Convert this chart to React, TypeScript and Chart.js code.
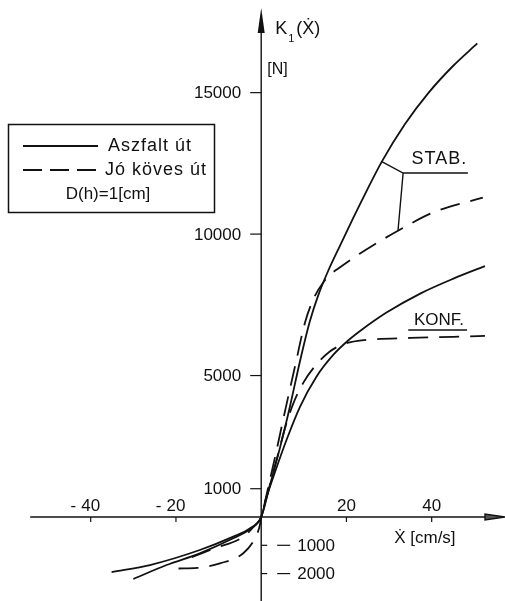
import React, { useEffect, useRef } from "react";
import { Chart, registerables } from "chart.js";

Chart.register(...registerables);

// ---- data (x: Ẋ [cm/s], y: K1 [N]) ----
const stabAszfaltX = [-30, -22.2, -14.4, -6.55, -2.6, 0, 2, 4.4, 6.8, 9.1, 11.4, 13.4, 15.8, 18.5, 21.6, 24.8, 28.3, 33.7, 39.2, 45, 50.7];
const stabAszfaltY = [-2190, -1697, -1283, -753, -430, 0, 1100, 2444, 3944, 5508, 6911, 7843, 8731, 9595, 10571, 11547, 12562, 13885, 14985, 15942, 16740];

const konfAszfaltX = [-35.1, -26.1, -14.4, -6.55, -2.6, 0, 1.3, 3.24, 6.0, 9.1, 13.0, 16.9, 20.4, 23.2, 29.4, 37.3, 45.1, 52.5];
const konfAszfaltY = [-1945, -1697, -1166, -696, -400, 0, 718, 1591, 2750, 3897, 4970, 5730, 6238, 6574, 7225, 7897, 8427, 8871];

const stabKovesX = [-16.3, -11.2, -4.2, -1.5, 0, 1.5, 3.3, 5.6, 7.9, 10.3, 12.5, 14.6, 16.5, 18.5, 23.2, 25.9, 32.2, 40.4, 52];
const stabKovesY = [-1420, -1120, -700, -300, 0, 950, 2150, 3750, 5300, 6884, 7784, 8301, 8605, 8825, 9318, 9574, 10128, 10768, 11290];

const konfKovesX = [-19.4, -15, -9.7, -4.2, -1.45, -0.3, 0, 2, 4, 5.6, 7.5, 9.9, 13, 16.1, 18.5, 21, 25, 35, 45, 52.5];
const konfKovesY = [-1820, -1800, -1640, -1280, -750, -280, 0, 1100, 2250, 3150, 4000, 4750, 5400, 5850, 6060, 6180, 6265, 6330, 6370, 6400];

// ---- ticks / labels ----
const xTicks = [-40, -20, 20, 40];
const yTicksPos = [1000, 5000, 10000, 15000];
const yTicksNeg = [-1000, -2000];
const legendLabels = ["Aszfalt út", "Jó köves út"];
const legendNote = "D(h)=1[cm]";
const xAxisTitle = "Ẋ [cm/s]";
const yAxisUnit = "[N]";
const stabText = "STAB.";
const konfText = "KONF.";

// axis ranges
const X_MIN = -61.28;
const X_MAX = 57.2;
const Y_MIN = -2969;
const Y_MAX = 18275;
const X_AXIS_FROM = -54.2;

// annotation anchors (data coords)
const stabOnSolid = { x: 28.3, y: 12562 };
const stabCorner = { x: 33.3, y: 12160 };
const stabLineEnd = { x: 48.5, y: 12160 };
const stabOnDashed = { x: 32.1, y: 10128 };
const stabTextPos = { x: 41.8, y: 12650 };
const konfTextPos = { x: 41.7, y: 6960 };
const konfLine = { x1: 34.5, x2: 48.3, y: 6610 };

const FONT = '"Liberation Sans", "DejaVu Sans", sans-serif';
const INK = "#111";

function pts(xs: number[], ys: number[]) {
  return xs.map((x, i) => ({ x, y: ys[i] }));
}

const drawPlugin = {
  id: "technicalAxes",
  beforeDatasetsDraw(chart: any) {
    const { ctx, chartArea } = chart;
    const xs = chart.scales.x;
    const ys = chart.scales.y;
    const x0 = xs.getPixelForValue(0);
    const y0 = ys.getPixelForValue(0);
    ctx.save();
    ctx.strokeStyle = INK;
    ctx.fillStyle = INK;
    ctx.lineWidth = 1.4;
    // x axis
    const xRight = chartArea.right;
    ctx.beginPath();
    ctx.moveTo(xs.getPixelForValue(X_AXIS_FROM), y0);
    ctx.lineTo(xRight - 18, y0);
    ctx.stroke();
    ctx.beginPath();
    ctx.moveTo(xRight, y0);
    ctx.lineTo(xRight - 20, y0 - 3);
    ctx.lineTo(xRight - 20, y0 + 3);
    ctx.closePath();
    ctx.fillStyle = "#555";
    ctx.fill();
    ctx.stroke();
    ctx.fillStyle = INK;
    // y axis
    ctx.beginPath();
    ctx.moveTo(x0, chartArea.bottom);
    ctx.lineTo(x0, chartArea.top + 24);
    ctx.stroke();
    ctx.beginPath();
    ctx.moveTo(x0, chartArea.top + 8);
    ctx.lineTo(x0 - 3.5, chartArea.top + 33);
    ctx.lineTo(x0 + 3.5, chartArea.top + 33);
    ctx.closePath();
    ctx.fill();

    // ticks
    ctx.lineWidth = 1.2;
    xTicks.forEach((v) => {
      const px = xs.getPixelForValue(v);
      ctx.beginPath();
      ctx.moveTo(px, y0);
      ctx.lineTo(px, y0 + 5);
      ctx.stroke();
    });
    yTicksPos.forEach((v) => {
      const py = ys.getPixelForValue(v);
      ctx.beginPath();
      ctx.moveTo(x0 - 11, py);
      ctx.lineTo(x0, py);
      ctx.stroke();
    });
    yTicksNeg.forEach((v) => {
      const py = ys.getPixelForValue(v);
      ctx.beginPath();
      ctx.moveTo(x0, py);
      ctx.lineTo(x0 + 6, py);
      ctx.stroke();
    });

    // tick labels
    ctx.font = `17px ${FONT}`;
    ctx.textBaseline = "middle";
    xTicks.forEach((v) => {
      const px = xs.getPixelForValue(v);
      const num = String(Math.abs(v));
      const w = ctx.measureText(num).width;
      ctx.textAlign = "left";
      ctx.fillText(num, px - w / 2, y0 - 11);
      if (v < 0) {
        ctx.textAlign = "right";
        ctx.fillText("-", px - w / 2 - 5, y0 - 11);
      }
    });
    ctx.textAlign = "right";
    yTicksPos.forEach((v) => {
      const py = ys.getPixelForValue(v);
      ctx.fillText(String(v), x0 - 20, py + 1);
    });
    ctx.textAlign = "left";
    yTicksNeg.forEach((v) => {
      const py = ys.getPixelForValue(v);
      ctx.beginPath();
      ctx.moveTo(x0 + 16, py);
      ctx.lineTo(x0 + 29, py);
      ctx.stroke();
      ctx.fillText(String(Math.abs(v)), x0 + 36, py + 1);
    });

    // axis titles
    ctx.textBaseline = "alphabetic";
    ctx.font = `18px ${FONT}`;
    ctx.fillText("K", x0 + 14, 34);
    ctx.font = `11px ${FONT}`;
    ctx.fillText("1", x0 + 27, 42);
    ctx.font = `18px ${FONT}`;
    ctx.fillText("(Ẋ)", x0 + 35, 34);
    ctx.font = `16px ${FONT}`;
    ctx.fillText(yAxisUnit, x0 + 6, 74);
    ctx.font = `17px ${FONT}`;
    ctx.fillText(xAxisTitle, x0 + 133, y0 + 26);
    ctx.restore();
  },
  afterDatasetsDraw(chart: any) {
    const { ctx } = chart;
    const xs = chart.scales.x;
    const ys = chart.scales.y;
    const P = (p: { x: number; y: number }) => [xs.getPixelForValue(p.x), ys.getPixelForValue(p.y)];
    ctx.save();
    ctx.strokeStyle = INK;
    ctx.fillStyle = INK;
    ctx.lineWidth = 1.4;
    // STAB annotation
    const a = P(stabOnSolid), b = P(stabCorner), c = P(stabLineEnd), d = P(stabOnDashed);
    ctx.beginPath();
    ctx.moveTo(a[0], a[1]);
    ctx.lineTo(b[0], b[1]);
    ctx.lineTo(c[0], c[1]);
    ctx.moveTo(b[0], b[1]);
    ctx.lineTo(d[0], d[1]);
    ctx.stroke();
    ctx.font = `18px ${FONT}`;
    ctx.textAlign = "center";
    ctx.textBaseline = "middle";
    (ctx as any).letterSpacing = "1px";
    const st = P(stabTextPos);
    ctx.fillText(stabText, st[0], st[1]);
    (ctx as any).letterSpacing = "0px";
    // KONF annotation
    ctx.font = `17px ${FONT}`;
    const kt = P(konfTextPos);
    ctx.fillText(konfText, kt[0], kt[1]);
    ctx.beginPath();
    ctx.moveTo(xs.getPixelForValue(konfLine.x1), ys.getPixelForValue(konfLine.y));
    ctx.lineTo(xs.getPixelForValue(konfLine.x2), ys.getPixelForValue(konfLine.y));
    ctx.stroke();

    // legend box
    ctx.lineWidth = 1.5;
    ctx.strokeRect(8.5, 124.5, 206, 88);
    ctx.lineWidth = 1.8;
    ctx.beginPath();
    ctx.moveTo(23, 146);
    ctx.lineTo(98, 146);
    ctx.stroke();
    ctx.setLineDash([19, 8]);
    ctx.beginPath();
    ctx.moveTo(23, 170);
    ctx.lineTo(98, 170);
    ctx.stroke();
    ctx.setLineDash([]);
    ctx.font = `18px ${FONT}`;
    ctx.textAlign = "left";
    (ctx as any).letterSpacing = "1px";
    ctx.fillText(legendLabels[0], 108, 146);
    ctx.fillText(legendLabels[1], 105, 170);
    (ctx as any).letterSpacing = "0px";
    ctx.textAlign = "center";
    ctx.font = `17px ${FONT}`;
    ctx.fillText(legendNote, 108, 194);
    ctx.restore();
  },
};

export default function App() {
  const ref = useRef<HTMLCanvasElement | null>(null);
  useEffect(() => {
    if (!ref.current) return;
    const solid = { borderColor: INK, borderWidth: 1.8, pointRadius: 0, showLine: true, cubicInterpolationMode: "monotone" as const, fill: false };
    const dashed = { ...solid, borderDash: [20, 11] };
    const chart = new Chart(ref.current, {
      type: "scatter",
      data: {
        datasets: [
          { label: "STAB " + legendLabels[0], data: pts(stabAszfaltX, stabAszfaltY), ...solid },
          { label: "KONF " + legendLabels[0], data: pts(konfAszfaltX, konfAszfaltY), ...solid },
          { label: "STAB " + legendLabels[1], data: pts(stabKovesX, stabKovesY), ...dashed },
          { label: "KONF " + legendLabels[1], data: pts(konfKovesX, konfKovesY), ...dashed },
        ],
      },
      options: {
        responsive: false,
        animation: false,
        devicePixelRatio: 1,
        layout: { padding: 0 },
        plugins: { legend: { display: false }, tooltip: { enabled: false } },
        scales: {
          x: { type: "linear", min: X_MIN, max: X_MAX, display: false },
          y: { type: "linear", min: Y_MIN, max: Y_MAX, display: false },
        },
      },
      plugins: [drawPlugin],
    });
    return () => chart.destroy();
  }, []);
  return (
    <div style={{ position: "absolute", left: 0, top: 0, width: 505, height: 601, background: "#fff" }}>
      <canvas ref={ref} width={505} height={601} style={{ display: "block" }} />
    </div>
  );
}
